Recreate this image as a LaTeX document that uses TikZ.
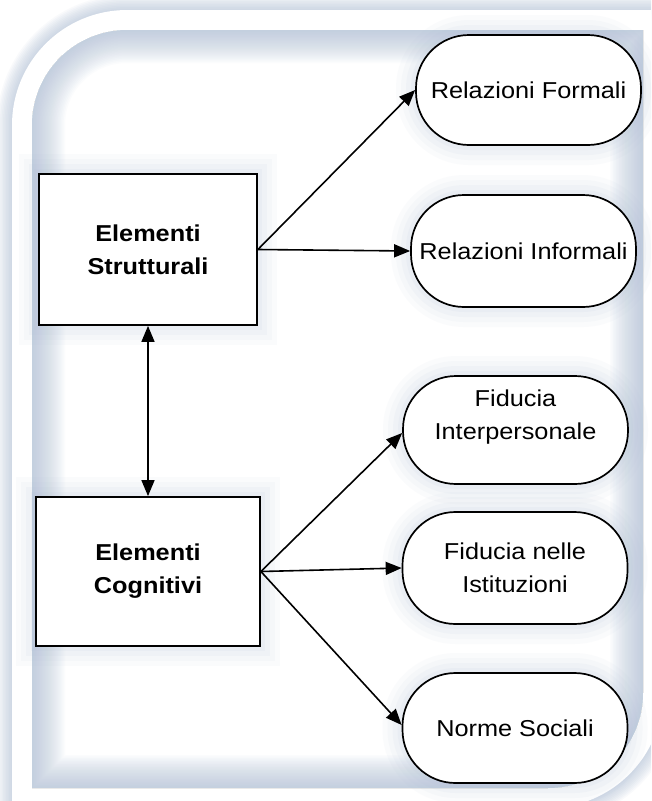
\documentclass[tikz,border=0pt]{standalone}
\usepackage{fontspec}
\setmainfont[FakeStretch=1.1]{Liberation Sans}
\usetikzlibrary{arrows.meta}
\definecolor{glowc}{RGB}{172,189,212}
\begin{document}
\begin{tikzpicture}[x=1pt,y=-1pt,
  halo/.style={preaction={draw=glowc,line width=40pt,opacity=0.05},
               preaction={draw=glowc,line width=30pt,opacity=0.06},
               preaction={draw=glowc,line width=20pt,opacity=0.07},
               preaction={draw=glowc,line width=10pt,opacity=0.08}},
  boxnode/.style={halo,draw,line width=1.8pt,fill=white,inner sep=0pt,
     font=\fontsize{23}{33}\selectfont\bfseries,align=center},
  stadium/.style={halo,draw,line width=1.7pt,fill=white,rounded corners=53pt,
     minimum width=225pt,minimum height=110pt,inner sep=0pt,
     font=\fontsize{23}{33}\selectfont,align=center},
  lbl/.style={font=\fontsize{23}{33}\selectfont,align=center,inner sep=0pt},
  link/.style={line width=1.6pt,-{Triangle[length=16pt,width=13pt]}},
  dlink/.style={line width=1.6pt,{Triangle[length=16pt,width=13pt]}-{Triangle[length=16pt,width=13pt]}}]
\useasboundingbox (0,0) rectangle (651,801);
\clip (0,0) rectangle (651,801);
\def\outerpath{(12,830) -- (12,125) .. controls (12,61.5) and (63.5,10) .. (127,10) -- (663,10) -- (663,693) .. controls (663,756.5) and (611.5,808) .. (548,808) -- cycle}
\def\panelpath{(32,788) -- (32,125) .. controls (32,72.5) and (74.5,30) .. (127,30) -- (643,30) -- (643,693) .. controls (643,745.5) and (600.5,788) .. (548,788) -- cycle}
% background and outer glow
\fill[white] (0,0) rectangle (651,801);
\foreach \i in {1,...,10}{
  \draw[glowc,line width=3*\i pt,opacity=0.07] \outerpath;
}
\fill[white] \outerpath;
% inner panel with inner glow
\begin{scope}
  \clip \panelpath;
  \fill[white] \panelpath;
  \foreach \i in {1,...,22}{
    \draw[glowc,line width=3*\i pt,opacity=0.045] \panelpath;
  }
\end{scope}
% nodes
\node[boxnode,minimum width=218pt,minimum height=151pt] (es) at (148,249.5) {Elementi\\Strutturali};
\node[boxnode,minimum width=224pt,minimum height=149pt] (ec) at (148,571.5) {Elementi\\Cognitivi};
\node[stadium] (rf) at (528.5,90) {Relazioni Formali};
\node[stadium,minimum height=112pt] (ri) at (523.5,251) {Relazioni Informali};
\node[stadium,minimum height=108pt] (fi) at (515.5,430) {};
\node[lbl] (fit) at ([yshift=13pt]fi.center) {Fiducia\\Interpersonale};
\node[stadium,minimum height=112pt] (fs) at (515,568) {Fiducia nelle\\Istituzioni};
\node[stadium] (ns) at (515,728) {Norme Sociali};
% connectors
\draw[link] (es.east) -- (rf.west);
\draw[link] (es.east) -- (ri.west);
\draw[link] (ec.east) -- ([yshift=-3pt]fi.west);
\draw[link] (ec.east) -- (fs.west);
\draw[link] (ec.east) -- ([yshift=3pt]ns.west);
\draw[dlink] (es.south) -- (ec.north);
\end{tikzpicture}
\end{document}
